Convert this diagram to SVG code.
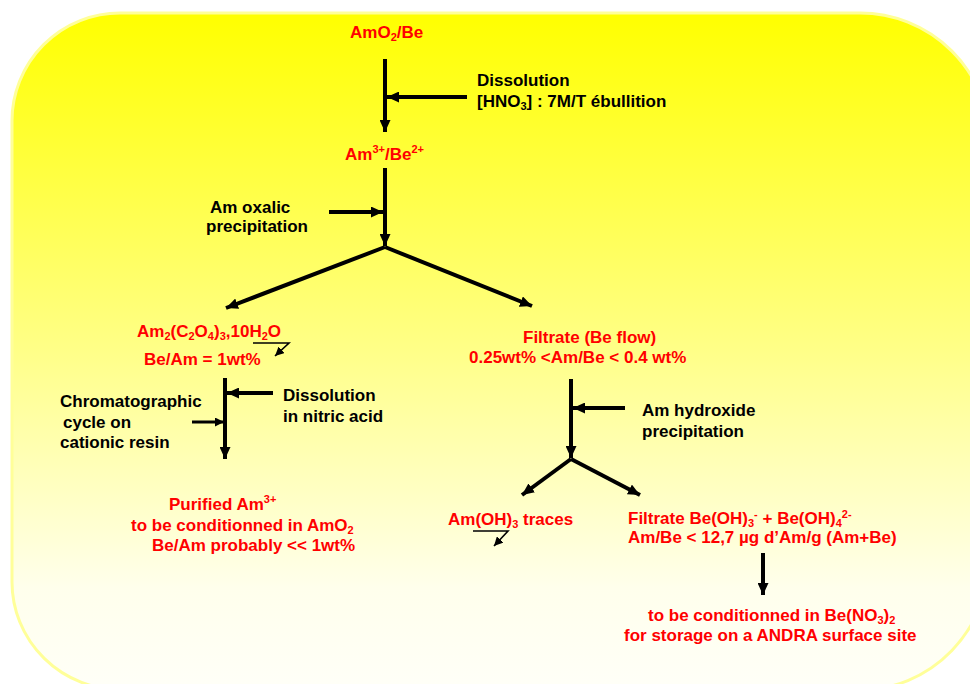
<svg xmlns="http://www.w3.org/2000/svg" width="970" height="684" viewBox="0 0 970 684">
<defs>
<linearGradient id="bg" x1="0" y1="0" x2="0" y2="1">
<stop offset="0" stop-color="#ffff00"/>
<stop offset="0.5" stop-color="#ffff88"/>
<stop offset="0.85" stop-color="#ffffec"/>
<stop offset="1" stop-color="#fffff8"/>
</linearGradient>
<marker id="ah" markerUnits="userSpaceOnUse" markerWidth="13" markerHeight="11" refX="12" refY="5.5" orient="auto">
<path d="M0,0 L12,5.5 L0,11 z" fill="#000"/>
</marker>
<marker id="ahs" markerUnits="userSpaceOnUse" markerWidth="10" markerHeight="9" refX="9" refY="4.5" orient="auto">
<path d="M0,0 L9,4.5 L0,9 z" fill="#000"/>
</marker>
</defs>
<style>
text{font-family:"Liberation Sans",Arial,sans-serif;font-weight:bold;font-size:17px}
.r{fill:#ff0000}
.k{fill:#000000}
.s{font-size:11px}
.c{stroke:#000;stroke-width:4;fill:none;marker-end:url(#ah)}
.t{stroke:#000;stroke-width:3;fill:none;marker-end:url(#ahs)}
.f{stroke:#000;stroke-width:1.6;fill:none;marker-end:url(#ahs)}
</style>
<path id="background" d="M120,13 H860 A130,130 0 0 1 990,143 V555 A130,135 0 0 1 860,690 H122 A110,108 0 0 1 12,582 V121 A108,108 0 0 1 120,13 Z" fill="url(#bg)" stroke="#ffff99" stroke-width="3"/>
<g id="connectors">
<line class="c" x1="385" y1="59" x2="385" y2="132"/>
<line class="c" x1="467" y1="97" x2="387" y2="97"/>
<line class="c" x1="385" y1="168" x2="385" y2="246"/>
<line class="c" x1="329" y1="212" x2="383" y2="212"/>
<line class="c" x1="385" y1="247" x2="226" y2="308"/>
<line class="c" x1="385" y1="247" x2="532" y2="306"/>
<polyline class="f" points="253,343 289,343 275,356"/>
<line class="c" x1="225" y1="378" x2="225" y2="459"/>
<line class="c" x1="273" y1="393" x2="227" y2="393"/>
<line class="t" x1="192" y1="422" x2="224" y2="422"/>
<line class="c" x1="571" y1="379" x2="571" y2="458"/>
<line class="c" x1="625" y1="408" x2="573" y2="408"/>
<line class="c" x1="571" y1="459" x2="522" y2="495"/>
<line class="c" x1="571" y1="459" x2="640" y2="495"/>
<polyline class="f" points="473,531 508,531 494,546"/>
<line class="c" x1="763" y1="553" x2="763" y2="595"/>
</g>
<g id="n-amo2be"><text class="r" x="350" y="38">AmO<tspan class="s" dy="3">2</tspan><tspan dy="-3">/Be</tspan></text></g>
<g id="n-dissolution1"><text class="k" x="477" y="86">Dissolution</text><text class="k" x="477" y="107">[HNO<tspan class="s" dy="3">3</tspan><tspan dy="-3">] : 7M/T ébullition</tspan></text></g>
<g id="n-am3be2"><text class="r" x="345" y="160">Am<tspan class="s" dy="-7">3+</tspan><tspan dy="7">/Be</tspan><tspan class="s" dy="-7">2+</tspan></text></g>
<g id="n-oxalic"><text class="k" x="210" y="213">Am oxalic</text><text class="k" x="206" y="232">precipitation</text></g>
<g id="n-oxalate"><text class="r" x="137" y="337">Am<tspan class="s" dy="3">2</tspan><tspan dy="-3">(C</tspan><tspan class="s" dy="3">2</tspan><tspan dy="-3">O</tspan><tspan class="s" dy="3">4</tspan><tspan dy="-3">)</tspan><tspan class="s" dy="3">3</tspan><tspan dy="-3">,10H</tspan><tspan class="s" dy="3">2</tspan><tspan dy="-3">O</tspan></text><text class="r" x="144" y="365">Be/Am = 1wt%</text></g>
<g id="n-dissolution2"><text class="k" x="283" y="401">Dissolution</text><text class="k" x="283" y="422">in nitric acid</text></g>
<g id="n-chromato"><text class="k" x="60" y="407">Chromatographic</text><text class="k" x="63" y="428">cycle on</text><text class="k" x="60" y="448">cationic resin</text></g>
<g id="n-purified"><text class="r" x="169" y="510">Purified Am<tspan class="s" dy="-7">3+</tspan></text><text class="r" x="131" y="531">to be conditionned in AmO<tspan class="s" dy="3">2</tspan></text><text class="r" x="152" y="551">Be/Am probably &lt;&lt; 1wt%</text></g>
<g id="n-filtrate"><text class="r" x="523" y="343">Filtrate (Be flow)</text><text class="r" x="469" y="363">0.25wt% &lt;Am/Be &lt; 0.4 wt%</text></g>
<g id="n-hydroxide"><text class="k" x="642" y="416">Am hydroxide</text><text class="k" x="642" y="437">precipitation</text></g>
<g id="n-amoh3"><text class="r" x="448" y="525">Am(OH)<tspan class="s" dy="3">3</tspan><tspan dy="-3"> traces</tspan></text></g>
<g id="n-filtrate2"><text class="r" x="628" y="524">Filtrate Be(OH)<tspan class="s" dy="3">3</tspan><tspan class="s" dy="-9">-</tspan><tspan dy="6"> + Be(OH)</tspan><tspan class="s" dy="3">4</tspan><tspan class="s" dy="-9">2-</tspan></text><text class="r" x="628" y="543">Am/Be &lt; 12,7 µg d’Am/g (Am+Be)</text></g>
<g id="n-storage"><text class="r" x="648" y="621">to be conditionned in Be(NO<tspan class="s" dy="3">3</tspan><tspan dy="-3">)</tspan><tspan class="s" dy="3">2</tspan></text><text class="r" x="624" y="641">for storage on a ANDRA surface site</text></g>
</svg>
